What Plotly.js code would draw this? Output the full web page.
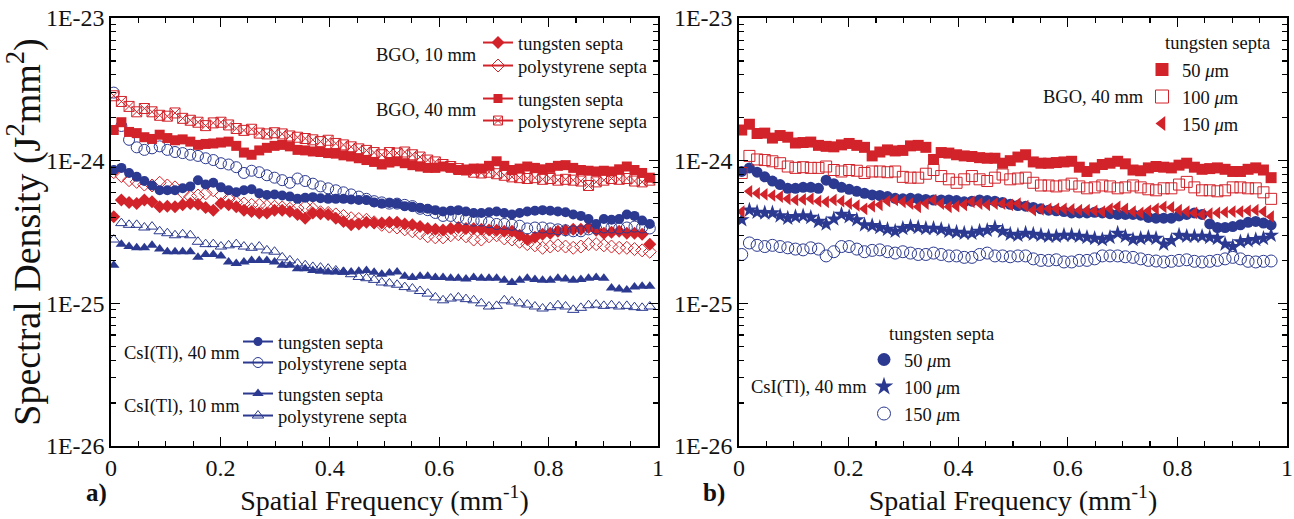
<!DOCTYPE html>
<html>
<head>
<meta charset="utf-8">
<script src="https://cdn.plot.ly/plotly-3.0.1.min.js"></script>
<style>html,body{margin:0;padding:0;background:#fff;}#chart{width:1294px;height:519px;}</style>
</head>
<body>
<div id="chart"></div>
<script>
// Spatial frequency (mm^-1)
const FREQ_A = [0.005,0.019,0.033,0.047,0.061,0.075,0.089,0.103,0.117,0.131,
  0.145,0.159,0.173,0.187,0.201,0.215,0.229,0.243,0.257,0.271,
  0.285,0.299,0.313,0.327,0.341,0.355,0.369,0.383,0.397,0.411,
  0.425,0.439,0.453,0.467,0.481,0.495,0.509,0.523,0.537,0.551,
  0.565,0.579,0.593,0.607,0.621,0.635,0.649,0.663,0.677,0.691,
  0.705,0.719,0.733,0.747,0.761,0.775,0.789,0.803,0.817,0.831,
  0.845,0.859,0.873,0.887,0.901,0.915,0.929,0.943,0.957,0.971,0.985];
const FREQ_B = [0.005,0.019,0.033,0.047,0.061,0.075,0.089,0.103,0.117,0.131,
  0.145,0.159,0.173,0.187,0.201,0.215,0.229,0.243,0.257,0.271,
  0.285,0.299,0.313,0.327,0.341,0.355,0.369,0.383,0.397,0.411,
  0.425,0.439,0.453,0.467,0.481,0.495,0.509,0.523,0.537,0.551,
  0.565,0.579,0.593,0.607,0.621,0.635,0.649,0.663,0.677,0.691,
  0.705,0.719,0.733,0.747,0.761,0.775,0.789,0.803,0.817,0.831,
  0.845,0.859,0.873,0.887,0.901,0.915,0.929,0.943,0.957,0.971];

// Spectral density values in units of 1E-25 J^2 mm^2
const UNIT = 1e-25;

// Panel a)
const A_BGO40_POLY = [28.5,26,24,22,23.2,22,20.8,20.5,21.6,19.8,
  19.2,18.6,17.6,18.4,18.6,17.8,16.8,16.3,16.6,15.6,
  15.4,15.7,15.4,14.9,14.6,14.3,14.0,13.6,13.9,13.2,
  12.9,12.5,12.1,11.8,11.4,11.0,11.4,11.3,11.5,11.0,
  10.6,10.1,9.8,9.4,9.1,8.8,8.6,8.3,8.2,8.3,
  8.1,7.9,7.7,7.6,7.5,7.6,7.4,7.5,7.3,7.4,
  7.3,7.2,6.7,7.1,7.3,7.5,7.4,7.5,7.2,7.1,7.3];
const A_BGO40_TUNG = [16.4,18.6,15.9,15.6,14.6,14.2,15.2,14.4,13.9,14.1,
  13.6,12.9,13.1,13.2,13.4,13.6,12.7,11.4,11.0,11.8,
  12.3,12.7,12.9,12.6,11.9,11.8,11.6,11.5,11.3,11.2,
  10.9,10.7,10.4,10.1,9.8,9.4,9.7,9.9,9.6,9.3,
  9.1,8.9,8.9,9.1,8.9,8.6,8.6,8.8,8.8,9.2,
  9.9,9.2,8.6,8.8,9.1,8.9,8.7,8.9,9.2,9.3,
  8.9,8.6,8.5,8.4,8.5,8.4,8.7,9.1,8.6,8.2,7.6];
const A_CSI40_POLY = [30.0,17.5,14.0,12.4,11.9,12.2,12.6,11.9,11.5,11.3,
  11.0,10.8,10.4,10.1,9.6,9.4,9.0,8.2,8.5,8.3,
  7.9,7.6,7.3,7.0,7.5,7.2,6.9,6.6,6.4,6.2,
  6.0,5.8,5.6,5.4,5.2,5.1,5.0,5.0,4.9,4.8,
  4.6,4.5,4.3,4.1,4.1,4.0,3.9,3.8,3.8,3.7,
  3.6,3.6,3.55,3.5,3.35,3.4,3.4,3.35,3.3,3.25,
  3.2,3.2,3.3,3.35,3.4,3.4,3.35,3.4,3.45,3.4,3.35];
const A_CSI40_TUNG = [8.6,8.9,8.2,7.7,7.2,6.7,6.2,6.2,6.2,6.4,
  6.6,7.3,6.8,7.0,6.5,6.2,6.0,6.2,6.3,5.9,
  5.75,5.8,5.7,5.6,5.4,5.5,5.55,5.45,5.4,5.4,
  5.4,5.35,5.3,5.3,5.1,5.0,5.05,5.0,4.8,4.75,
  4.65,4.6,4.5,4.4,4.45,4.5,4.4,4.3,4.3,4.35,
  4.4,4.3,4.2,4.3,4.4,4.45,4.5,4.45,4.4,4.35,
  4.2,4.1,3.9,3.6,3.9,3.85,3.9,4.2,4.1,3.8,3.6];
const A_BGO10_POLY = [8.3,7.8,7.3,7.1,6.8,6.7,7.0,6.7,6.5,6.0,
  5.6,5.7,5.9,6.2,5.7,5.4,5.1,5.0,4.9,4.9,
  4.8,4.75,4.7,4.6,4.65,4.75,4.6,4.35,4.3,4.2,
  4.1,3.95,3.9,3.85,3.7,3.55,3.45,3.4,3.3,3.2,
  3.1,2.95,2.9,2.9,3.0,3.05,2.95,2.8,2.8,2.95,
  3.0,2.85,2.8,2.7,2.6,2.55,2.45,2.5,2.55,2.5,
  2.45,2.5,2.6,2.6,2.55,2.5,2.45,2.45,2.4,2.35,2.3];
const A_BGO10_TUNG = [4.05,5.3,5.1,5.0,5.3,5.15,4.75,4.8,4.75,4.9,
  5.0,4.95,4.7,4.5,5.0,4.9,4.75,4.5,4.4,4.3,
  4.3,4.5,4.5,4.4,4.2,3.95,4.3,4.25,4.2,3.95,
  3.75,3.55,3.6,3.7,3.65,3.65,3.7,3.7,3.6,3.55,
  3.45,3.35,3.3,3.27,3.35,3.4,3.35,3.35,3.3,3.27,
  3.25,3.2,3.2,3.0,2.8,2.9,3.05,3.1,3.2,3.25,
  3.3,3.3,3.4,3.25,3.1,3.15,3.2,3.1,3.1,3.05,2.6];
const A_CSI10_POLY = [2.8,3.65,3.55,3.55,3.4,3.45,3.2,3.1,3.0,3.05,
  3.0,2.7,2.6,2.6,2.5,2.55,2.6,2.5,2.45,2.5,
  2.35,2.3,2.1,2.0,1.9,1.85,1.8,1.78,1.75,1.7,
  1.66,1.6,1.53,1.5,1.46,1.4,1.38,1.35,1.3,1.27,
  1.22,1.17,1.1,1.05,1.08,1.1,1.07,1.05,1.0,0.95,
  0.96,1.05,1.03,1.0,0.98,0.95,0.92,0.94,0.97,0.95,
  0.9,0.93,0.97,0.98,0.96,0.97,0.95,0.96,0.94,0.93,0.95];
const A_CSI10_TUNG = [1.85,2.6,2.5,2.45,2.45,2.55,2.4,2.3,2.3,2.3,
  2.3,2.1,2.2,2.2,2.15,1.95,1.9,1.95,2.0,2.0,
  2.0,1.95,1.85,1.85,1.75,1.75,1.7,1.68,1.66,1.66,
  1.67,1.66,1.68,1.7,1.65,1.6,1.63,1.66,1.55,1.52,
  1.55,1.55,1.52,1.52,1.5,1.5,1.48,1.52,1.5,1.5,
  1.5,1.45,1.4,1.45,1.5,1.47,1.45,1.45,1.5,1.48,
  1.45,1.47,1.5,1.52,1.5,1.28,1.26,1.24,1.3,1.32,1.32];

// Panel b) (tungsten septa thickness)
const B_BGO_50 = [16.4,18.0,15.5,15.6,14.4,15.0,14.6,13.3,13.4,13.5,
  12.8,12.6,12.5,12.9,13.2,12.8,12.4,10.8,11.5,11.9,
  11.7,11.8,12.7,12.8,12.4,10.2,11.4,11.3,11.0,10.8,
  10.7,10.5,10.4,10.4,9.6,10.0,10.6,11.0,9.8,9.6,
  9.6,9.7,9.8,9.9,9.0,8.4,8.9,9.4,9.6,9.9,
  9.5,8.6,8.5,8.9,9.1,9.0,8.9,9.3,9.6,9.0,
  8.7,8.8,8.9,8.7,8.4,8.4,8.7,8.9,8.6,7.6];
const B_BGO_100 = [8.2,10.8,10.2,10.1,9.9,9.6,9.1,8.9,9.0,8.9,
  8.9,9.1,8.6,8.4,8.6,8.5,8.2,8.4,8.4,8.3,
  8.4,7.7,7.6,7.6,8.1,8.6,7.8,7.4,7.0,7.4,
  7.8,7.4,7.2,7.6,8.0,7.4,7.5,7.6,7.0,6.7,
  6.7,6.6,6.7,6.9,6.6,6.4,6.5,6.7,6.6,6.4,
  6.5,6.7,6.5,6.3,6.2,6.4,6.4,6.8,7.1,6.5,
  6.2,6.2,6.1,6.2,6.5,6.5,6.4,6.4,6.0,5.4];
const B_BGO_150 = [4.4,6.1,5.9,5.8,5.7,5.6,5.4,5.3,5.35,5.4,
  5.2,5.15,5.3,5.2,5.0,4.85,4.6,4.8,4.9,5.2,
  5.3,5.15,5.0,4.75,5.0,5.3,5.0,4.75,4.8,4.9,
  5.15,5.0,4.9,5.0,5.0,4.9,5.0,4.8,4.5,4.55,
  4.6,4.6,4.6,4.55,4.5,4.5,4.45,4.4,4.6,4.75,
  4.6,4.4,4.3,4.45,4.6,4.75,4.7,4.5,4.4,4.3,
  4.2,4.25,4.3,4.35,4.4,4.4,4.45,4.5,4.4,4.05];
const B_CSI_50 = [8.4,8.9,8.3,7.7,7.2,6.8,6.4,6.4,6.5,6.5,
  6.4,7.3,6.9,6.5,6.3,6.1,5.9,5.75,5.7,5.6,
  5.45,5.4,5.45,5.4,5.35,5.3,5.3,5.3,5.25,5.15,
  5.2,5.3,5.25,5.2,5.1,4.95,4.85,4.8,4.7,4.6,
  4.5,4.45,4.4,4.3,4.3,4.3,4.35,4.3,4.25,4.2,
  4.2,4.2,4.15,4.0,3.95,3.95,3.95,4.1,4.2,4.3,
  4.2,3.6,3.4,3.4,3.45,3.55,3.7,3.75,3.65,3.55];
const B_CSI_100 = [3.85,4.5,4.35,4.3,4.3,4.1,3.95,4.05,4.1,4.0,
  3.75,3.6,3.9,4.2,4.05,3.85,3.55,3.5,3.4,3.3,
  3.2,3.35,3.45,3.4,3.35,3.35,3.3,3.2,3.15,3.1,
  3.1,3.2,3.25,3.4,3.2,3.05,3.0,3.1,3.05,3.0,
  2.95,2.95,3.0,3.0,2.95,2.9,2.85,2.8,2.9,3.1,
  2.95,2.8,2.85,2.9,2.85,2.6,2.75,3.0,2.95,2.95,
  2.95,2.9,2.85,2.6,2.5,2.7,2.75,2.8,2.85,3.0];
const B_CSI_150 = [2.2,2.65,2.55,2.5,2.55,2.5,2.45,2.4,2.37,2.45,
  2.4,2.15,2.3,2.5,2.5,2.4,2.3,2.35,2.37,2.3,
  2.25,2.3,2.25,2.2,2.2,2.25,2.2,2.15,2.15,2.1,
  2.1,2.2,2.25,2.15,2.15,2.12,2.15,2.15,2.05,2.0,
  2.0,2.02,1.95,1.95,2.0,2.0,2.05,2.15,2.15,2.15,
  2.12,2.1,2.05,2.0,1.98,1.95,1.97,2.0,2.02,1.97,
  1.95,1.97,2.0,2.05,2.1,2.05,1.97,1.95,1.97,1.98];

const Y_TICK_VALS = [1e-26, 1e-25, 1e-24, 1e-23];
const Y_TICK_TEXT = ['1E-26', '1E-25', '1E-24', '1E-23'];
const X_TITLE = 'Spatial Frequency (mm<sup>-1</sup>)';
const Y_TITLE = 'Spectral Density (J<sup>2</sup>mm<sup>2</sup>)';

const RED = '#D2232A';
const BLUE = '#2B3990';
const FONT = 'Liberation Serif';
const W = 1294, H = 519;

function scale(arr) { return arr.map(v => v * UNIT); }

const traces = [];
function dataTrace(x, y, xa, ya, color, symbol, size, lw) {
  traces.push({
    type: 'scatter', mode: 'markers', x: x, y: scale(y), xaxis: xa, yaxis: ya,
    showlegend: false, hoverinfo: 'skip',
    marker: {symbol: symbol, size: size, color: color, line: {color: color, width: lw}}
  });
}
function legendTrace(name, legendId, color, symbol, size, lw, withLine) {
  traces.push({
    type: 'scatter', mode: withLine ? 'lines+markers' : 'markers', x: [null], y: [null],
    xaxis: 'x', yaxis: 'y', name: name, legend: legendId, showlegend: true,
    line: {color: color, width: 2},
    marker: {symbol: symbol, size: size, color: color, line: {color: color, width: lw}}
  });
}

// Panel a data
dataTrace(FREQ_A, A_CSI10_POLY, 'x', 'y', BLUE, 'triangle-up-open', 10, 1);
dataTrace(FREQ_A, A_CSI10_TUNG, 'x', 'y', BLUE, 'triangle-up', 10, 0);
dataTrace(FREQ_A, A_BGO10_POLY, 'x', 'y', RED, 'diamond-open', 10, 1);
dataTrace(FREQ_A, A_BGO10_TUNG, 'x', 'y', RED, 'diamond', 10, 0);
dataTrace(FREQ_A, A_CSI40_POLY, 'x', 'y', BLUE, 'circle-open', 11, 1);
dataTrace(FREQ_A, A_CSI40_TUNG, 'x', 'y', BLUE, 'circle', 10, 0);
dataTrace(FREQ_A, A_BGO40_POLY, 'x', 'y', RED, 'square-x-open', 10, 1);
dataTrace(FREQ_A, A_BGO40_TUNG, 'x', 'y', RED, 'square', 10, 0);

// Panel b data
dataTrace(FREQ_B, B_CSI_150, 'x2', 'y2', BLUE, 'circle-open', 12, 1);
dataTrace(FREQ_B, B_CSI_100, 'x2', 'y2', BLUE, 'star', 12, 0);
dataTrace(FREQ_B, B_CSI_50, 'x2', 'y2', BLUE, 'circle', 11, 0);
dataTrace(FREQ_B, B_BGO_150, 'x2', 'y2', RED, 'triangle-left', 11, 0);
dataTrace(FREQ_B, B_BGO_100, 'x2', 'y2', RED, 'square-open', 11, 1);
dataTrace(FREQ_B, B_BGO_50, 'x2', 'y2', RED, 'square', 11, 0);

// Legend entries
legendTrace('tungsten septa', 'legend', RED, 'diamond', 10, 0, true);
legendTrace('polystyrene septa', 'legend2', RED, 'diamond-open', 10, 1, true);
legendTrace('tungsten septa', 'legend3', RED, 'square', 9, 0, true);
legendTrace('polystyrene septa', 'legend4', RED, 'square-x-open', 9, 1, true);
legendTrace('tungsten septa', 'legend5', BLUE, 'circle', 9, 0, true);
legendTrace('polystyrene septa', 'legend6', BLUE, 'circle-open', 10, 1, true);
legendTrace('tungsten septa', 'legend7', BLUE, 'triangle-up', 10, 0, true);
legendTrace('polystyrene septa', 'legend8', BLUE, 'triangle-up-open', 10, 1, true);
legendTrace('50 <i>μ</i>m', 'legend9', RED, 'square', 13, 0, false);
legendTrace('100 <i>μ</i>m', 'legend10', RED, 'square-open', 13, 1, false);
legendTrace('150 <i>μ</i>m', 'legend11', RED, 'triangle-left', 13, 0, false);
legendTrace('50 <i>μ</i>m', 'legend12', BLUE, 'circle', 13, 0, false);
legendTrace('100 <i>μ</i>m', 'legend13', BLUE, 'star', 14, 0, false);
legendTrace('150 <i>μ</i>m', 'legend14', BLUE, 'circle-open', 13, 1, false);

function px(x) { return x / W; }
function py(y) { return 1 - y / H; }

const legendPos = {
  legend: [478, 43], legend2: [478, 66], legend3: [478, 99], legend4: [478, 121],
  legend5: [238, 342], legend6: [238, 363], legend7: [238, 394], legend8: [238, 416],
  legend9: [1142, 70], legend10: [1142, 97], legend11: [1142, 124],
  legend12: [864, 360], legend13: [864, 387], legend14: [864, 414]
};

const minorVals = [];
[-26, -25, -24].forEach(d => { for (let k = 2; k <= 9; k++) minorVals.push(k * Math.pow(10, d)); });

function xAxis(domain, anchor) {
  return {
    domain: domain, anchor: anchor, range: [0, 1], tick0: 0, dtick: 0.2,
    ticks: 'inside', ticklen: 9, tickwidth: 1.3, tickcolor: '#000',
    showline: true, linecolor: '#000', linewidth: 1.6, mirror: 'ticks',
    showgrid: false, zeroline: false, automargin: false,
    tickfont: {family: FONT, size: 24, color: '#111'},
    minor: {dtick: 0.05, tick0: 0, ticks: 'inside', ticklen: 5, tickwidth: 1.1, tickcolor: '#000', showgrid: false},
    title: {text: X_TITLE, font: {family: FONT, size: 28, color: '#111'}, standoff: 6}
  };
}
function yAxis(domain, anchor, title) {
  const ax = {
    domain: domain, anchor: anchor, type: 'log', range: [-26, -23],
    tickmode: 'array', tickvals: Y_TICK_VALS, ticktext: Y_TICK_TEXT,
    ticks: 'inside', ticklen: 9, tickwidth: 1.3, tickcolor: '#000',
    showline: true, linecolor: '#000', linewidth: 1.6, mirror: 'ticks',
    showgrid: false, zeroline: false, automargin: false,
    tickfont: {family: FONT, size: 24, color: '#111'},
    minor: {tickmode: 'array', tickvals: minorVals, ticks: 'inside', ticklen: 5, tickwidth: 1.1, tickcolor: '#000', showgrid: false}
  };
  if (title) ax.title = {text: title, font: {family: FONT, size: 38, color: '#111'}, standoff: 0};
  return ax;
}

const yDomain = [1 - 446 / H, 1 - 18 / H];
const layout = {
  width: W, height: H,
  margin: {l: 0, r: 0, t: 0, b: 0},
  paper_bgcolor: '#fff', plot_bgcolor: '#fff',
  font: {family: FONT, color: '#111', size: 18},
  xaxis: xAxis([px(111), px(658)], 'y'),
  yaxis: yAxis(yDomain, 'x', Y_TITLE),
  xaxis2: xAxis([px(739), px(1287)], 'y2'),
  yaxis2: yAxis(yDomain, 'x2', null),
  annotations: [
    {text: 'BGO, 10 mm', x: px(479), y: py(55)},
    {text: 'BGO, 40 mm', x: px(479), y: py(110)},
    {text: 'CsI(Tl), 40 mm', x: px(242), y: py(353)},
    {text: 'CsI(Tl), 10 mm', x: px(242), y: py(406)},
    {text: 'tungsten septa', x: px(1272), y: py(43)},
    {text: 'BGO, 40 mm', x: px(1146), y: py(97)},
    {text: 'tungsten septa', x: px(996), y: py(334)},
    {text: 'CsI(Tl), 40 mm', x: px(869), y: py(387)},
    {text: '<b>a)</b>', x: px(109), y: py(493), size: 25},
    {text: '<b>b)</b>', x: px(727), y: py(493), size: 25}
  ].map(a => ({
    text: a.text, x: a.x, y: a.y, xref: 'paper', yref: 'paper',
    xanchor: 'right', yanchor: 'middle', showarrow: false,
    font: {family: FONT, size: a.size || 18.5, color: '#111'}
  }))
};
Object.keys(legendPos).forEach(id => {
  layout[id] = {
    x: px(legendPos[id][0]), y: py(legendPos[id][1]), xanchor: 'left', yanchor: 'middle',
    bgcolor: 'rgba(0,0,0,0)', borderwidth: 0, itemwidth: 30,
    font: {family: FONT, size: 18.5, color: '#111'}, itemclick: false, itemdoubleclick: false
  };
});

Plotly.newPlot('chart', traces, layout, {staticPlot: true, displayModeBar: false});
</script>
</body>
</html>
